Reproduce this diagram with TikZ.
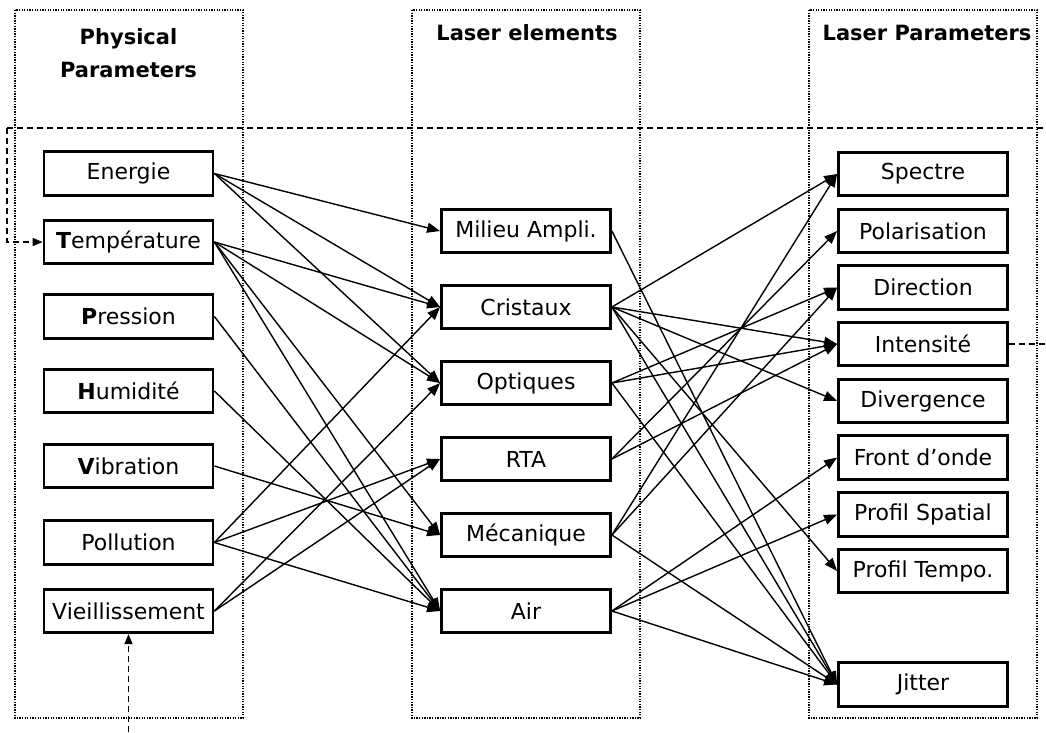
\documentclass[tikz,border=0pt]{standalone}
\usepackage{fontspec}
\setmainfont{DejaVu Sans}
\usetikzlibrary{arrows.meta}
\begin{document}
\begin{tikzpicture}[x=1pt,y=-1pt,
  box/.style={draw, line width=2.8pt, minimum width=169pt, minimum height=43.5pt, inner sep=0pt, font=\fontsize{22}{26}\selectfont},
  colbox/.style={line width=1.4pt, dash pattern=on 1.3pt off 1.3pt},
  link/.style={line width=1.4pt, -{Triangle[length=13pt,width=10pt]}},
  dlink/.style={line width=1.4pt, dash pattern=on 6pt off 4pt},
  dtip/.style={-{Triangle[length=10pt,width=8pt]}},
  title/.style={font=\fontsize{21}{33}\selectfont\bfseries, align=center, inner sep=0pt}
]
\fill[white] (0,0) rectangle (1046,732);
\useasboundingbox (0,0) rectangle (1046,732);

% column frames
\draw[colbox] (15,10) rectangle (243,718);
\draw[colbox] (412,10) rectangle (640,718);
\draw[colbox] (809,10) rectangle (1037,718);

% titles
\node[title] (tp) at (128.5,53) {Physical\\Parameters};
\node[title] (tl) at (527,33) {Laser elements};
\node[title] (tr) at (927,33) {Laser Parameters};

% left nodes
\node[box] (e)  at (128.5,173.5) {Energie};
\node[box] (t)  at (128.5,242)   {\textbf{T}empérature};
\node[box] (p)  at (128.5,316.5) {\textbf{P}ression};
\node[box] (h)  at (128.5,391)   {\textbf{H}umidité};
\node[box] (v)  at (128.5,466)   {\textbf{V}ibration};
\node[box] (po) at (128.5,542.5) {Pollution};
\node[box] (vi) at (128.5,611)   {Vieillissement};

% middle nodes
\node[box] (mi)  at (526,231) {Milieu Ampli.};
\node[box] (cr)  at (526,307) {Cristaux};
\node[box] (op)  at (526,383) {Optiques};
\node[box] (rta) at (526,459) {RTA};
\node[box] (me)  at (526,535) {Mécanique};
\node[box] (air) at (526,611) {Air};

% right nodes
\node[box] (sp)  at (923,174)   {Spectre};
\node[box] (pol) at (923,231)   {Polarisation};
\node[box] (dir) at (923,287.5) {Direction};
\node[box] (int) at (923,344)   {Intensité};
\node[box] (div) at (923,401)   {Divergence};
\node[box] (fo)  at (923,457.5) {Front d’onde};
\node[box] (ps)  at (923,514.5) {Profil Spatial};
\node[box] (pt)  at (923,571)   {Profil Tempo.};
\node[box] (ji)  at (923,684.5) {Jitter};

% left -> middle
\foreach \a/\b in {e/mi,e/cr,e/op,t/cr,t/op,t/me,t/air,p/air,h/air,v/me,po/cr,po/rta,po/air,vi/op,vi/rta}
  \draw[link] (\a.east) -- (\b.west);

% middle -> right
\foreach \a/\b in {mi/ji,cr/sp,cr/int,cr/div,cr/pt,cr/ji,op/dir,op/int,op/ji,rta/pol,rta/int,me/sp,me/dir,me/ji,air/fo,air/ps,air/ji}
  \draw[link] (\a.east) -- (\b.west);

% dashed feedback lines
\coordinate (dl) at (7,128);
\coordinate (dr) at (1046,128);
\coordinate (ir) at (1046,344);
\coordinate (vb) at (128.5,732);
\draw[dlink] (dl) -- (dr);
\draw[dlink,dtip] (dl) |- (t.west);
\draw[dlink] (int.east) -- (ir);
\draw[dlink,dtip] (vb) -- (vi.south);
\end{tikzpicture}
\end{document}
